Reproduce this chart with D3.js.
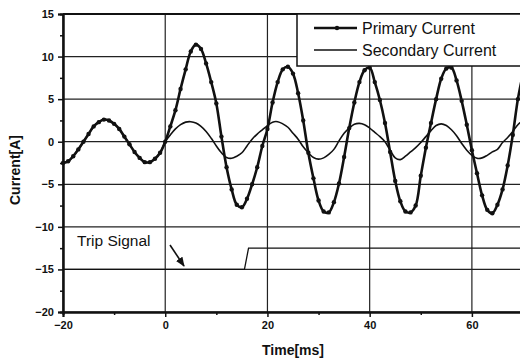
<!DOCTYPE html>
<html>
<head>
<meta charset="utf-8">
<script src="https://cdn.jsdelivr.net/npm/d3@7"></script>
<style>
  body { margin: 0; background: #fff; }
  svg text { font-family: "Liberation Sans", Arial, sans-serif; fill: #111; }
</style>
</head>
<body>
<div id="chart"></div>
<script>
// sample times (ms)
const timeMs = [-20,-19,-18,-17,-16,-15,-14,-13,-12,-11,-10,-9,-8,-7,-6,-5,-4,-3,-2,-1,
  0,1,2,3,4,5,6,7,8,9,10,11,12,13,14,15,16,17,18,19,
  20,21,22,23,24,25,26,27,28,29,30,31,32,33,34,35,36,37,38,39,
  40,41,42,43,44,45,46,47,48,49,50,51,52,53,54,55,56,57,58,59,
  60,61,62,63,64,65,66,67,68,69,70];

const primaryCurrent = [-2.5,-2.3,-1.7,-0.9,0.0,0.9,1.8,2.3,2.6,2.5,2.1,1.5,0.6,-0.3,-1.2,-1.9,-2.4,-2.4,-2.0,-1.3,
  0.0,1.8,3.7,6.2,8.5,10.6,11.4,10.9,9.2,7.0,4.5,0.6,-3.0,-5.6,-7.4,-7.7,-6.7,-5.0,-3.0,-0.5,
  1.5,4.6,7.0,8.5,8.8,8.0,5.7,2.5,-1.3,-4.3,-6.9,-8.2,-8.3,-7.1,-4.9,-1.8,1.6,4.6,7.0,8.4,
  8.7,7.0,4.9,2.2,-1.2,-4.6,-7.0,-8.2,-8.3,-7.5,-4.0,-0.7,2.2,5.0,7.4,8.6,8.7,7.2,4.8,2.0,
  -1.0,-3.7,-6.3,-8.0,-8.4,-7.4,-5.6,-2.8,0.8,5.0,8.0];

const secondaryCurrent = [-2.5,-2.3,-1.7,-0.9,0.0,0.9,1.8,2.3,2.6,2.5,2.1,1.5,0.6,-0.3,-1.2,-1.9,-2.4,-2.4,-2.0,-1.3,
  0.0,0.8,1.5,2.0,2.3,2.35,2.2,1.8,1.2,0.4,-0.5,-1.3,-1.85,-1.95,-1.7,-1.3,-0.5,0.3,0.9,1.4,
  1.9,2.3,2.35,2.1,1.7,1.0,0.3,-0.6,-1.3,-1.85,-2.05,-1.9,-1.5,-0.9,0.1,1.0,1.6,2.05,2.15,2.0,
  1.6,1.1,0.6,0.0,-1.0,-1.9,-2.1,-1.7,-1.2,-0.7,-0.1,0.6,1.3,1.9,2.1,1.9,1.4,0.7,-0.2,-1.0,
  -1.6,-1.95,-1.9,-1.6,-1.2,-0.9,-0.1,0.5,1.2,2.0,2.5];

const tripTime = [-20, 15.5, 16.3, 70];
const tripLevel = [-15, -15, -12.5, -12.5];

const xTicks = [-20, 0, 20, 40, 60];
const xMinor = [-10, 10, 30, 50];
const yTicks = [15, 10, 5, 0, -5, -10, -15, -20];
const yMinor = [12.5, 7.5, 2.5, -2.5, -7.5, -12.5, -17.5];

const seriesNames = ["Primary Current", "Secondary Current"];

const W = 520, H = 361;
const margin = { top: 14, left: 63, bottom: 49, right: -3 };
const width = W - margin.left - margin.right,
      height = H - margin.top - margin.bottom;

const x = d3.scaleLinear().domain([-20, 70]).range([0, width]);
const y = d3.scaleLinear().domain([-20, 15]).range([height, 0]);

const svg = d3.select("#chart").append("svg")
  .attr("width", W).attr("height", H);

const g = svg.append("g")
  .attr("transform", "translate(" + margin.left + "," + margin.top + ")");

// grid
g.selectAll(".hgrid").data(yTicks).join("line")
  .attr("x1", 0).attr("x2", width)
  .attr("y1", d => y(d)).attr("y2", d => y(d))
  .attr("stroke", "#222").attr("stroke-width", 1.2);
g.selectAll(".vgrid").data(xTicks).join("line")
  .attr("x1", d => x(d)).attr("x2", d => x(d))
  .attr("y1", 0).attr("y2", height)
  .attr("stroke", "#222").attr("stroke-width", 1.2);

// axes
g.append("g").attr("transform", "translate(0," + height + ")")
  .call(d3.axisBottom(x).tickValues(xTicks).tickSize(5).tickPadding(4));
g.append("g").attr("transform", "translate(0," + height + ")")
  .call(d3.axisBottom(x).tickValues(xMinor).tickSize(3).tickFormat(""));
g.append("g")
  .call(d3.axisLeft(y).tickValues(yTicks).tickSize(5).tickPadding(4));
g.append("g")
  .call(d3.axisLeft(y).tickValues(yMinor).tickSize(3).tickFormat(""));

svg.selectAll(".domain").attr("stroke", "#111").attr("stroke-width", 2);
svg.selectAll(".tick line").attr("stroke", "#111").attr("stroke-width", 1.5);
svg.selectAll(".tick text").style("font-size", "11px").style("font-weight", "bold");

// top frame
g.append("line").attr("x1", 0).attr("x2", width).attr("y1", 0).attr("y2", 0)
  .attr("stroke", "#111").attr("stroke-width", 2);

// data
const primary = timeMs.map((t, i) => [t, primaryCurrent[i]]);
const secondary = timeMs.map((t, i) => [t, secondaryCurrent[i]]);
const trip = tripTime.map((t, i) => [t, tripLevel[i]]);

const line = d3.line().x(d => x(d[0])).y(d => y(d[1]));

g.append("path").datum(trip)
  .attr("d", line)
  .attr("fill", "none").attr("stroke", "#111").attr("stroke-width", 1.3);

g.append("path").datum(secondary)
  .attr("d", line.curve(d3.curveCatmullRom))
  .attr("fill", "none").attr("stroke", "#111").attr("stroke-width", 1.6);

g.append("path").datum(primary)
  .attr("d", line.curve(d3.curveCatmullRom))
  .attr("fill", "none").attr("stroke", "#111").attr("stroke-width", 2.6);

g.selectAll(".pt").data(primary).join("circle")
  .attr("cx", d => x(d[0])).attr("cy", d => y(d[1]))
  .attr("r", 2.2).attr("fill", "#111");

// legend
const lg = g.append("g").attr("transform", "translate(" + (297 - margin.left) + ",0)");
lg.append("rect").attr("x", 0).attr("y", 0).attr("width", 240).attr("height", 52)
  .attr("fill", "#fff").attr("stroke", "#111").attr("stroke-width", 1.5);
seriesNames.forEach((name, i) => {
  const yy = 14 + i * 22;
  lg.append("line").attr("x1", 17).attr("x2", 60).attr("y1", yy).attr("y2", yy)
    .attr("stroke", "#111").attr("stroke-width", i === 0 ? 2.4 : 1.6);
  if (i === 0) lg.append("circle").attr("cx", 40).attr("cy", yy).attr("r", 2.2).attr("fill", "#111");
  lg.append("text").attr("x", 65).attr("y", yy + 5.5)
    .style("font-size", "16px").text(name);
});

// annotation
g.append("text").attr("x", 77 - margin.left).attr("y", 246 - margin.top)
  .style("font-size", "15.5px").text("Trip Signal");
svg.append("defs").append("marker")
  .attr("id", "arr").attr("viewBox", "0 0 10 10").attr("refX", 9).attr("refY", 5)
  .attr("markerWidth", 6).attr("markerHeight", 6).attr("orient", "auto")
  .append("path").attr("d", "M0,1L10,5L0,9z").attr("fill", "#111");
g.append("line")
  .attr("x1", 170 - margin.left).attr("y1", 245 - margin.top)
  .attr("x2", 184 - margin.left).attr("y2", 266 - margin.top)
  .attr("stroke", "#111").attr("stroke-width", 1.6).attr("marker-end", "url(#arr)");

// axis titles
svg.append("text").attr("x", 293).attr("y", 355).attr("text-anchor", "middle")
  .style("font-size", "14px").style("font-weight", "bold").text("Time[ms]");
svg.append("text").attr("transform", "translate(20,170) rotate(-90)")
  .attr("text-anchor", "middle").style("font-size", "14px").style("font-weight", "bold")
  .text("Current[A]");
</script>
</body>
</html>
